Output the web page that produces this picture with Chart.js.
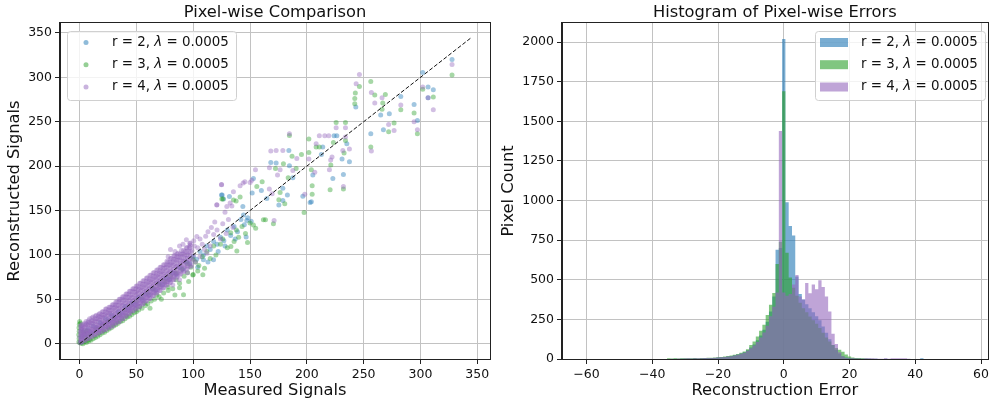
<!DOCTYPE html>
<html>
<head>
<meta charset="utf-8">
<title>Pixel-wise reconstruction</title>
<script src="https://cdn.jsdelivr.net/npm/chart.js@4.4.0/dist/chart.umd.min.js"></script>
<style>
  html, body { margin: 0; padding: 0; background: #fff; }
  #wrap { position: relative; width: 992px; height: 403px; overflow: hidden; }
  .panel { position: absolute; top: 0; }
  #left { left: 0; }
  #right { left: 496px; }
</style>
</head>
<body>
<div id="wrap">
  <div class="panel" id="left"><canvas id="scatterChart" width="496" height="403"></canvas></div>
  <div class="panel" id="right"><canvas id="histChart" width="496" height="403"></canvas></div>
</div>
<script>
var FONT = "'DejaVu Sans', sans-serif";

var ranks = [2, 3, 4];
var lambdaValue = '0.0005';

// [measured, reconstructed] per rank
var r2Points = [
  [1,2],[2,8],[3,14],[5,10],[7,16],[10,12],[12,20],[15,18],[18,24],[20,22],[23,28],[26,26],[28,32],[31,30],
  [34,36],[37,34],[40,42],[43,40],[46,46],[49,44],[52,52],[55,50],[58,56],[61,55],[64,62],[67,60],[70,68],
  [73,66],[76,74],[79,72],[82,80],[85,78],[88,86],[91,84],[94,92],[97,90],[100,98],[103,95],[106,104],
  [109,100],[112,110],[115,106],[118,115],[121,112],[124,120],[127,116],[130,128],[133,122],[136,132],
  [139,126],[142,140],[145,134],[148,142],[151,138],[109,94.6],[117.9,94.6],[125.5,167.4],[126.7,163],
  [144.3,145],[147.2,138.9],[146.6,120.1],[104,86],[113,92],[122,104],[128,110],[137,118],
  [302,305.5],[327.8,320],[306.7,289],[311.3,286],[282.7,278.5],[294.4,269.5],[297.3,251.5],[243.1,266.5],
  [265,257.5],[272.6,259],[267.4,241],[256.3,236.5],[224,234.2],[226.4,234.2],[235.2,225.2],[214,221.5],
  [212.8,213.2],[231,208],[237.5,205],[222.9,186.2],[232.2,190.7],[205.3,190],[204,160],[196.5,166],
  [178.9,175],[168.3,204.2],[173,203.5],[184.2,217.7],[184.7,200.4],[187.7,187],[124.9,167.5],[160,172.6],
  [153,186.2],[164.8,163.6],[182.9,167.5],[151.9,169.7],[131.9,165.9],[143.7,154.6],[202.9,159],
  [178.9,161.4],[175.4,156.2],[306.7,277]
];

var r3Points = [
  [-0.6,2],[-0.4,6],[-0.7,10],[-0.3,14],[-0.5,18],[-0.2,22],[0.1,25],[0.8,23],[0.4,1],[1.5,0.5],
  [3,0],[4,2],[5,3],[6,1.5],[7,4],[8,3],[9,5],[10,4],[4.5,7],[7.5,8],[9.5,10],[3.5,12],[6,14],
  [12,5.5],[14,7],[16,8.5],[18,10],[20,12],[22,13],[24,15],[26,16.5],[28,18],[30,20],[32,21.5],[34,23],
  [36,25],[38,26],[40,28],[42,30],[44,31],[46,33],[48,35],[50,36],[52,38],[55,40],[58,43],[60,45],
  [63,48],[66,50],[70,53],[74,57],[78,60],
  [13,9],[17,12],[21,15],[25,19],[29,22],[33,25],[37,29],[41,32],[45,36],[49,39],[53,42],[57,46],
  [15,16],[20,20],[25,25],[30,28],[35,33],[40,38],[45,43],[50,48],[55,52],[60,57],[65,62],[70,66],
  [75,70],[80,76],[85,80],[90,84],[95,90],[100,95],
  [62,40],[68,55],[72,50],[78,64],[82,62],[85,72],[88,68],[92,76],[95,80],[98,86],[100,78],[102,92],
  [105,88],[108,98],[110,85],[112,104],[115,96],[118,110],[120,100],[124,112],[126,118],[130,108],
  [133,125],[136,115],[138,128],[140,120],[143,132],[146,124],[150,136],[155,130],
  [83.9,54.8],[91.5,55.2],[99.7,77.4],[108.5,77.7],[104,82],[96,70],[88,63],
  [256.3,295.4],[246.3,289.8],[242.7,282.3],[259.8,280],[269.1,280.7],[242.2,276.2],[242.2,270.3],
  [266.8,271],[266.2,264.2],[282.7,263.5],[294.4,259.8],[297.3,236.5],[302,286.7],[311.3,277.8],
  [327.8,302.6],[276.8,248.5],[272,238.7],[256.3,221.5],[184.7,234.5],[225.8,249.2],[234,249.2],
  [223.4,226.7],[234,229],[201.8,230.5],[211,221.5],[208.2,221.5],[201.8,215.4],[232.8,214.8],
  [221.1,201.2],[220.5,173.4],[232.2,174.2],[204,196],[204.7,168.2],[204.7,178],[172.4,197.4],[187,211],
  [195.3,213.2],[179.4,202.7],[190.6,197.4],[183.6,187],[126.1,163],[156,177.1],[160.7,182.4],
  [176.5,170.4],[175.4,162.2],[180.6,157.7],[141.3,165.2],[137.8,160.7],[197.6,147.9],[170.6,135.1],
  [163.6,139.6],[153,133.7],[147.8,114.1],[138.4,104.4],[133.2,109.6],[125.2,163],[135.5,162],[161.8,139.6]
];

var r4Points = [
  [0.3,1],[0.8,4],[0.2,8],[1.1,11],[0.6,14],[1.4,17],[0.9,20],[1.3,6],
  [2.1,2],[2.8,6],[2.4,10],[3.3,13],[2.2,16],[3.0,19],[2.6,22],[3.4,9],
  [5.1,4],[5.8,8],[5.3,12],[6.3,15],[5.5,19],[6.1,22],[5.7,25],[6.4,11],
  [8.0,6],[8.7,10],[8.3,14],[9.2,17],[8.5,21],[9.0,24],[8.8,28],[9.4,13],
  [11.1,8],[11.7,12],[11.3,16],[12.2,19],[11.5,23],[12.0,26],[11.8,30],[12.4,14],
  [14.0,10],[14.8,14],[14.3,18],[15.2,21],[14.5,25],[15.0,28],[14.7,32],[15.4,16],
  [17.1,12],[17.8,16],[17.3,20],[18.3,23],[17.5,27],[18.1,30],[17.7,34],[18.4,18],
  [20.0,14],[20.7,18],[20.3,22],[21.2,25],[20.5,29],[21.0,32],[20.8,36],[21.4,20],
  [23.1,16],[23.8,20],[23.3,24],[24.3,27],[23.5,31],[24.0,35],[23.7,39],[24.4,22],
  [26.0,18],[26.7,22],[26.3,26],[27.2,30],[26.5,34],[27.0,37],[26.8,41],[27.4,24],
  [29.1,20],[29.8,24],[29.3,28],[30.3,32],[29.5,36],[30.1,40],[29.7,44],[30.4,26],
  [32.0,23],[32.7,27],[32.3,31],[33.2,35],[32.5,39],[33.0,43],[32.8,47],[33.4,29],
  [35.1,25],[35.8,29],[35.3,33],[36.3,37],[35.5,41],[36.1,46],[35.7,50],[36.4,31],
  [38.0,28],[38.7,32],[38.3,36],[39.2,40],[38.5,44],[39.0,49],[38.8,53],[39.4,34],
  [41.1,31],[41.8,35],[41.3,39],[42.3,43],[41.5,47],[42.1,52],[41.7,56],[42.4,37],
  [44.0,34],[44.7,38],[44.3,42],[45.2,46],[44.5,50],[45.0,55],[44.8,59],[45.4,40],
  [47.1,37],[47.8,41],[47.3,45],[48.3,49],[47.5,53],[48.1,58],[47.7,62],[48.4,43],
  [50.0,39],[50.7,43],[50.3,47],[51.2,52],[50.5,56],[51.0,60],[50.8,65],[51.4,45],
  [53.1,42],[53.8,46],[53.3,50],[54.3,55],[53.5,59],[54.1,63],[53.7,68],[54.4,48],
  [56.0,45],[56.7,49],[56.3,53],[57.2,58],[56.5,62],[57.0,66],[56.8,71],[57.4,51],
  [59.1,48],[59.8,52],[59.3,56],[60.3,61],[59.5,65],[60.1,69],[59.7,74],[60.4,54],
  [62.0,51],[62.7,55],[62.3,59],[63.2,64],[62.5,68],[63.0,72],[62.8,77],[63.4,57],
  [65.1,54],[65.8,58],[65.3,62],[66.3,67],[65.5,71],[66.1,75],[65.7,80],[66.4,60],
  [68.0,57],[68.7,61],[68.3,65],[69.2,70],[68.5,74],[69.0,78],[68.8,83],[69.4,63],
  [71.1,60],[71.8,64],[71.3,68],[72.3,73],[71.5,77],[72.1,81],[71.7,86],[72.4,66],
  [74.0,63],[74.7,67],[74.3,71],[75.2,76],[74.5,80],[75.0,85],[74.8,89],[75.4,69],
  [77.1,66],[77.8,70],[77.3,74],[78.3,79],[77.5,83],[78.1,88],[77.7,92],[78.4,72],
  [80.0,69],[80.7,73],[80.3,78],[81.2,82],[80.5,87],[81.0,91],[80.8,96],[81.4,75],
  [83.1,72],[83.8,77],[83.3,81],[84.3,86],[83.5,90],[84.1,95],[83.7,99],[84.4,79],
  [86.0,76],[86.7,80],[86.3,85],[87.2,89],[86.5,94],[87.0,98],[86.8,102],
  [89.1,79],[89.8,84],[89.3,88],[90.3,93],[89.5,97],[90.1,101],[89.7,105],
  [92.0,82],[92.7,87],[92.3,92],[93.2,96],[92.5,100],[93.0,104],[94.0,108],
  [95.1,86],[95.8,91],[96.3,95],[95.5,100],[96.1,104],[96.6,109],
  [98.5,88],[99.4,94],[100.2,99],[99.0,105],[101.0,110],[100.5,116],
  // second pass through the dense band
  [1.6,2],[1.9,5],[1.7,8],[2.0,11],[1.5,13],[1.8,16],[2.1,18],[1.7,21],
  [4.4,4],[4.7,7],[4.3,10],[4.8,13],[4.5,15],[4.2,18],[4.6,21],[4.9,23],
  [7.6,6],[7.3,9],[7.8,12],[7.4,15],[7.7,18],[7.2,21],[7.5,24],[7.9,26],
  [10.4,8],[10.7,11],[10.3,14],[10.8,17],[10.5,20],[10.2,23],[10.6,26],[10.9,29],
  [13.6,10],[13.3,13],[13.8,16],[13.4,19],[13.7,22],[13.2,25],[13.5,28],[13.9,31],
  [16.4,12],[16.7,15],[16.3,18],[16.8,21],[16.5,25],[16.2,28],[16.6,31],[16.9,33],
  [19.6,14],[19.3,17],[19.8,21],[19.4,24],[19.7,27],[19.2,30],[19.5,33],[19.9,36],
  [22.4,16],[22.7,19],[22.3,23],[22.8,26],[22.5,30],[22.2,33],[22.6,36],[22.9,39],
  [25.6,18],[25.3,21],[25.8,25],[25.4,28],[25.7,32],[25.2,35],[25.5,38],[25.9,41],
  [28.4,20],[28.7,24],[28.3,27],[28.8,31],[28.5,34],[28.2,38],[28.6,41],[28.9,44],
  [31.6,23],[31.3,27],[31.8,30],[31.4,34],[31.7,37],[31.2,41],[31.5,44],[31.9,47],
  [34.4,25],[34.7,29],[34.3,32],[34.8,36],[34.5,40],[34.2,43],[34.6,47],[34.9,50],
  [37.6,28],[37.3,32],[37.8,35],[37.4,39],[37.7,43],[37.2,46],[37.5,50],[37.9,53],
  [40.4,31],[40.7,35],[40.3,38],[40.8,42],[40.5,46],[40.2,49],[40.6,53],[40.9,56],
  [43.6,34],[43.3,38],[43.8,41],[43.4,45],[43.7,49],[43.2,52],[43.5,56],[43.9,59],
  [46.4,37],[46.7,41],[46.3,44],[46.8,48],[46.5,52],[46.2,55],[46.6,59],[46.9,62],
  [49.6,40],[49.3,44],[49.8,47],[49.4,51],[49.7,55],[49.2,58],[49.5,62],[49.9,65],
  [52.4,42],[52.7,46],[52.3,50],[52.8,53],[52.5,57],[52.2,61],[52.6,64],[52.9,68],
  [55.6,45],[55.3,49],[55.8,53],[55.4,56],[55.7,60],[55.2,64],[55.5,67],[55.9,71],
  [58.4,48],[58.7,52],[58.3,56],[58.8,59],[58.5,63],[58.2,67],[58.6,70],[58.9,74],
  [61.6,51],[61.3,55],[61.8,59],[61.4,62],[61.7,66],[61.2,70],[61.5,73],[61.9,77],
  [64.4,54],[64.7,58],[64.3,62],[64.8,65],[64.5,69],[64.2,73],[64.6,76],[64.9,80],
  [67.6,57],[67.3,61],[67.8,65],[67.4,68],[67.7,72],[67.2,76],[67.5,79],[67.9,83],
  [70.4,60],[70.7,64],[70.3,68],[70.8,71],[70.5,75],[70.2,79],[70.6,82],[70.9,86],
  [73.6,63],[73.3,67],[73.8,71],[73.4,74],[73.7,78],[73.2,82],[73.5,85],[73.9,89],
  [76.4,66],[76.7,70],[76.3,74],[76.8,78],[76.5,82],[76.2,86],[76.6,89],[76.9,93],
  [79.6,69],[79.3,73],[79.8,77],[79.4,81],[79.7,85],[79.2,89],[79.5,92],[79.9,96],
  [82.4,72],[82.7,76],[82.3,80],[82.8,84],[82.5,88],[82.2,92],[82.6,95],[82.9,99],
  [85.6,75],[85.3,79],[85.8,83],[85.4,87],[85.7,91],[85.2,94],[85.5,98],[85.9,101],
  [88.4,78],[88.7,82],[88.3,86],[88.8,90],[88.5,94],[88.2,97],[88.6,101],
  [91.6,81],[91.3,85],[91.8,89],[91.4,93],[91.7,97],[91.2,101],[91.5,105],
  [94.4,84],[94.7,88],[94.3,92],[94.8,96],[94.5,100],[94.2,104],[94.6,108],
  [97.6,87],[97.3,91],[97.8,96],[97.4,100],[97.7,104],[97.2,108],[97.5,111],
  // fringe and upper cloud
  [78,98],[80,106],[84,104],[88,110],[91,112],[94,117],[97,113],[82,66],[88,72],[95,80],
  [103.2,120.8],[97.4,113.4],[104,108],[106,118],[108,112],[110,106],[111,121],[113,126],[115,110],
  [116,131],[118,123],[119,137],[121,128],[124,118],[126,135],[128,148],[129,124],[131,140],[134,155],
  [135,131],[125,179],[144,181],[151.6,184],[120.8,156.5],[129.6,154.6],[102,92],[106,98],[112,102],
  [246.3,303.3],[243.4,292.8],[256.8,283],[266.2,277],[259.8,271],[282.7,268.8],[294.4,250],[297.3,241],
  [306.7,277],[311.3,263.5],[327.8,314.5],[302,289],[276.8,240.2],[272,247],[256.8,217],[184.7,236.5],
  [225.8,243.2],[234,243.2],[211,234.2],[215.8,234.2],[219.3,234.2],[234,232.8],[208.2,225.2],
  [201.8,208],[231.7,217.7],[237.5,219.3],[222.2,210.2],[221,207],[219.9,196],[232.2,177.1],[207,193],
  [198.2,168.2],[167.1,198.2],[168.3,217],[173,217.7],[178.9,217.7],[191.2,208.7],[187.7,195.2],
  [176.5,196],[174.2,190],[154.8,196],[141.3,178],[124.9,179.4],[120.8,156.2],[135.4,171.2],
  [145.5,182.4],[150.1,181.6],[167,174.2],[169.5,169],[132.5,158.4],[171.2,138.9]
];

// y = x reference
var identityLine = [0, 344];

// error histogram, bin centres and pixel counts
var binCenters = [
  -36,-35,-34,-33,-32,-31,-30,-29,-28,-27,-26,-25,-24,-23,-22,-21,
  -20,-19,-18,-17,-16,-15,-14,-13,-12,-11,
  -10,-9,-8,-7,-6,-5,-4,-3,-2,-1,
  0,
  1,2,3,4,5,6,7,8,9,10,
  11,12,13,14,15,16,17,18,19,20,
  21,22,23,24,25,26,27,28,29,30,
  31,32,33,34,35,36,37,38,39,40,41,42,43
];
var r2Counts = [
  0,0,0,1,0,1,2,1,2,3,2,3,4,5,6,7,
  9,11,13,16,19,23,28,34,42,55,
  72,92,118,148,185,235,300,395,690,700,
  2020,
  990,840,780,520,410,375,345,320,295,270,
  245,205,165,125,88,58,34,18,10,6,
  4,3,2,2,1,1,0,1,0,0,
  1,0,0,0,0,0,0,0,0,0,0,5,0
];
var r3Counts = [
  0,4,3,4,3,4,5,4,5,6,5,6,7,8,8,9,
  11,13,16,19,22,27,32,40,48,62,
  88,110,142,178,216,278,342,416,600,740,
  1690,
  670,515,450,400,355,320,295,268,245,222,
  195,165,135,110,88,70,58,45,28,15,
  10,7,6,4,3,2,1,0,0,0,
  0,0,0,0,0,0,0,0,0,0,0,0,0
];
var r4Counts = [
  0,0,1,0,3,2,3,4,3,4,5,5,6,6,7,8,
  9,11,13,15,18,22,27,33,40,52,
  68,86,108,135,168,210,270,330,420,1440,
  420,
  400,410,470,530,395,375,480,415,470,440,
  497,455,395,300,160,95,42,18,8,5,
  4,3,3,2,4,5,4,3,2,1,
  4,2,4,5,4,5,4,2,0,0,0,0,0
];

var signalTicks = [0, 50, 100, 150, 200, 250, 300, 350];
var errorTicks = [-60, -40, -20, 0, 20, 40, 60];
var countTicks = [0, 250, 500, 750, 1000, 1250, 1500, 1750, 2000];

var seriesRgb = [[31, 119, 180], [44, 160, 44], [148, 103, 189]];
function rgba(c, a) { return 'rgba(' + c[0] + ',' + c[1] + ',' + c[2] + ',' + a + ')'; }

function toXY(points) { return points.map(function (p) { return { x: p[0], y: p[1] }; }); }
function histXY(counts) { return binCenters.map(function (b, i) { return { x: b, y: counts[i] }; }); }
function minusSign(v) { return String(v).replace('-', '\u2212'); }

// shared axis look
function axis(min, max, ticks, title, fit, titlePad) {
  return {
    type: 'linear', min: min, max: max, z: 1, offset: false,
    afterBuildTicks: function (s) { s.ticks = ticks.map(function (v) { return { value: v }; }); },
    afterFit: function (s) { if (fit.w) s.width = fit.w; if (fit.h) s.height = fit.h; },
    ticks: { color: '#111', padding: 3, maxRotation: 0, autoSkip: false,
             font: { family: FONT, size: 12.5 }, callback: minusSign },
    grid: { color: '#c2c2c2', lineWidth: 1, offset: false, drawTicks: true,
            tickLength: 5, tickColor: '#222', tickWidth: 1 },
    border: { display: true, color: '#222', width: 1 },
    title: { display: true, text: title, color: '#111',
             font: { family: FONT, size: 16.3, lineHeight: 1 }, padding: titlePad }
  };
}

function framePlugin() {
  return {
    id: 'frame',
    afterDraw: function (chart) {
      var a = chart.chartArea, ctx = chart.ctx;
      ctx.save();
      ctx.strokeStyle = '#222';
      ctx.lineWidth = 1;
      ctx.strokeRect(Math.round(a.left) - 0.5, Math.round(a.top) - 0.5,
                     Math.round(a.right - a.left) + 1, Math.round(a.bottom - a.top) + 1);
      ctx.restore();
    }
  };
}

function titlePlugin(text) {
  return {
    id: 'panelTitle',
    afterDraw: function (chart) {
      var a = chart.chartArea, ctx = chart.ctx;
      ctx.save();
      ctx.font = '16.3px ' + FONT;
      ctx.fillStyle = '#111';
      ctx.textAlign = 'center';
      ctx.textBaseline = 'alphabetic';
      ctx.fillText(text, (a.left + a.right) / 2, 16.5);
      ctx.restore();
    }
  };
}

function drawLabel(ctx, x, y, rank, size) {
  ctx.textAlign = 'left';
  ctx.textBaseline = 'middle';
  ctx.font = size + 'px ' + FONT;
  var head = 'r = ' + rank + ', ';
  ctx.fillText(head, x, y);
  x += ctx.measureText(head).width;
  ctx.font = 'italic ' + size + 'px ' + FONT;
  ctx.fillText('\u03bb', x, y);
  x += ctx.measureText('\u03bb').width;
  ctx.font = size + 'px ' + FONT;
  ctx.fillText(' = ' + lambdaValue, x, y);
}

function legendPlugin(cfg) {
  return {
    id: 'insetLegend',
    afterDraw: function (chart) {
      var ctx = chart.ctx;
      ctx.save();
      ctx.beginPath();
      ctx.roundRect(cfg.x + 0.5, cfg.y + 0.5, cfg.w, cfg.h, 3);
      ctx.fillStyle = 'rgba(255,255,255,0.8)';
      ctx.fill();
      ctx.strokeStyle = '#d0d0d0';
      ctx.lineWidth = 1;
      ctx.stroke();
      ranks.forEach(function (r, i) {
        var cy = cfg.rows[i];
        ctx.fillStyle = rgba(seriesRgb[i], cfg.alpha);
        if (cfg.patch) {
          ctx.fillRect(cfg.keyX, cy - 4.5, 28, 9);
        } else {
          ctx.beginPath();
          ctx.arc(cfg.keyX, cy, 2.5, 0, Math.PI * 2);
          ctx.fill();
        }
        ctx.fillStyle = '#111';
        drawLabel(ctx, cfg.textX, cy, r, 13.4);
      });
      ctx.restore();
    }
  };
}

Chart.defaults.font.family = FONT;

// left panel: measured vs reconstructed
var scatterSets = [r2Points, r3Points, r4Points].map(function (pts, i) {
  return {
    label: 'r = ' + ranks[i],
    data: toXY(pts),
    order: 3 - i,
    backgroundColor: rgba(seriesRgb[i], 0.42),
    borderWidth: 0,
    pointRadius: 2.5,
    pointHoverRadius: 2.5
  };
});
scatterSets.push({
  label: 'y = x',
  type: 'line',
  data: toXY([[identityLine[0], identityLine[0]], [identityLine[1], identityLine[1]]]),
  order: 0,
  borderColor: '#111',
  borderWidth: 1,
  borderDash: [4, 2],
  pointRadius: 0,
  fill: false
});

new Chart(document.getElementById('scatterChart'), {
  type: 'scatter',
  data: { datasets: scatterSets },
  options: {
    responsive: false, animation: false, devicePixelRatio: 1, events: [],
    layout: { padding: { top: 23, right: 6, left: 0, bottom: 0 } },
    plugins: { legend: { display: false }, tooltip: { enabled: false } },
    scales: {
      x: axis(-17.2, 361.2, signalTicks, 'Measured Signals', { h: 44 }, { top: 0, bottom: 4 }),
      y: axis(-17.2, 361.2, signalTicks, 'Reconstructed Signals', { w: 60 }, { top: 7, bottom: 0 })
    }
  },
  plugins: [framePlugin(), titlePlugin('Pixel-wise Comparison'),
            legendPlugin({ x: 67, y: 31, w: 169, h: 69, rows: [42.5, 64.7, 87], keyX: 86, textX: 112, alpha: 0.5, patch: false })]
});

// right panel: error histogram drawn as filled step outlines
var histSets = [r2Counts, r3Counts, r4Counts].map(function (counts, i) {
  return {
    label: 'r = ' + ranks[i],
    data: histXY(counts),
    order: 3 - i,
    stepped: 'middle',
    fill: 'origin',
    backgroundColor: rgba(seriesRgb[i], 0.6),
    borderColor: 'rgba(0,0,0,0)',
    borderWidth: 1,
    pointRadius: 0
  };
});

new Chart(document.getElementById('histChart'), {
  type: 'line',
  data: { datasets: histSets },
  options: {
    responsive: false, animation: false, devicePixelRatio: 1, events: [],
    layout: { padding: { top: 23, right: 2, left: 0, bottom: 0 } },
    plugins: { legend: { display: false }, tooltip: { enabled: false } },
    scales: {
      x: axis(-67.45, 62, errorTicks, 'Reconstruction Error', { h: 44 }, { top: 0, bottom: 4 }),
      y: axis(0, 2121, countTicks, 'Pixel Count', { w: 66 }, { top: 5, bottom: 0 })
    }
  },
  plugins: [framePlugin(), titlePlugin('Histogram of Pixel-wise Errors'),
            legendPlugin({ x: 319, y: 31, w: 170, h: 69, rows: [42.5, 64.7, 87], keyX: 324, textX: 365, alpha: 0.6, patch: true })]
});
</script>
</body>
</html>
